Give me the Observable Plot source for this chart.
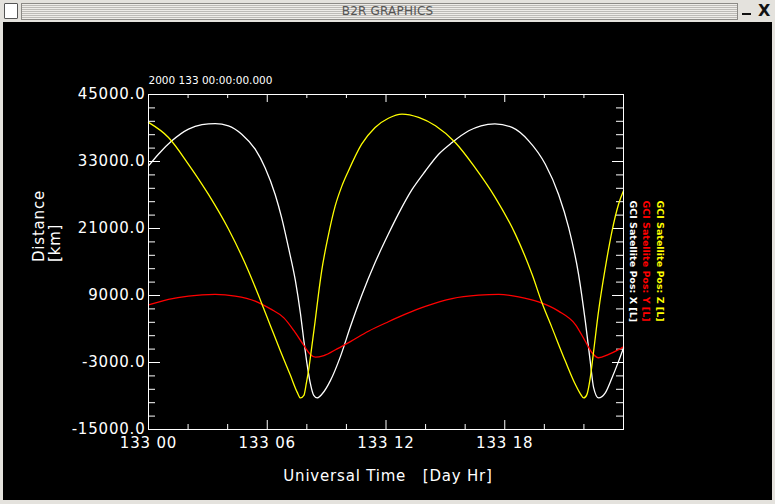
<!DOCTYPE html>
<html>
<head>
<meta charset="utf-8">
<script src="https://cdn.jsdelivr.net/npm/d3@7"></script>
<script src="https://cdn.jsdelivr.net/npm/@observablehq/plot@0.6"></script>
<style>
  html, body { margin: 0; padding: 0; background: #000; width: 775px; height: 504px; overflow: hidden; }
  #win { position: relative; width: 775px; height: 504px; background: #000; font-family: "DejaVu Sans", sans-serif; }
  #titlebar { position: absolute; left: 0; top: 0; width: 775px; height: 22px; background: #e4e2dd; }
  #icon { position: absolute; left: 4px; top: 3px; width: 12px; height: 14px; background: #fff; border: 1px solid #555; border-radius: 1px; }
  #stripes { position: absolute; left: 21px; top: 3px; width: 715px; height: 15px; border: 1px solid #8c8a86;
    background: repeating-linear-gradient(to bottom, #eeece8 0px, #eeece8 1px, #bdbbb7 1px, #bdbbb7 2px); }
  #ttl { position: absolute; left: 0; top: 0; width: 775px; height: 22px; line-height: 22px; text-align: center;
    font-size: 12px; color: #555; letter-spacing: 0.2px; }
  #minb { position: absolute; left: 742px; top: 13px; width: 9px; height: 2px; background: #111; }
  #closeb { position: absolute; left: 758px; top: 1px; font-size: 16px; font-weight: bold; color: #111; line-height: 20px; }
  #chart { position: absolute; left: 0; top: 22px; }
  .bd { position: absolute; background: #e4e2dd; }
</style>
</head>
<body>
<div id="win">
  <div id="titlebar">
    <div id="icon"></div>
    <div id="stripes"></div>
    <div id="ttl">B2R GRAPHICS</div>
    <div id="minb"></div>
    <div id="closeb">X</div>
  </div>
  <div id="chart"></div>
  <div class="bd" style="left:0;top:22px;width:3px;height:482px;"></div>
  <div class="bd" style="left:772px;top:22px;width:3px;height:482px;"></div>
  <div class="bd" style="left:0;top:500px;width:775px;height:4px;"></div>
</div>
<script>
// ---- data ----
const xPosHours = [0, 0.5, 1.18, 2.02, 2.7, 3.37, 4.04, 4.71, 5.39, 5.89, 6.4, 6.73, 7.07, 7.42, 7.68, 7.85, 8.01, 8.18, 8.35, 8.52, 8.77, 9.19, 9.7, 10.2, 10.77, 11.45, 12.12, 12.64, 13.32, 13.99, 14.66, 15.34, 16.18, 16.8, 17.5, 18.37, 19.21, 20.05, 20.72, 21.23, 21.73, 22.07, 22.32, 22.49, 22.74, 23.08, 23.42, 23.75, 24.0];
const xPosKm    = [32200, 34300, 36700, 38800, 39600, 39800, 39400, 37900, 35200, 31900, 27100, 22900, 17600, 11700, 5700, 900, -3250, -6800, -8900, -9350, -8650, -6250, -1900, 3400, 9000, 14900, 20000, 23700, 28000, 31300, 34300, 36400, 38500, 39400, 39750, 39100, 36700, 32500, 27100, 21150, 12800, 4400, -2800, -7500, -9350, -8450, -5750, -2800, -400];

const yPosHours = [0, 1.01, 2.02, 3.37, 4.38, 5.39, 6.16, 6.84, 7.34, 7.85, 8.18, 8.43, 8.86, 9.53, 10.2, 11.11, 12.12, 12.98, 13.99, 15.34, 16.68, 17.69, 18.7, 19.71, 20.72, 21.57, 22.07, 22.41, 22.74, 23.25, 23.75, 24.0];
const yPosKm    = [7300, 8300, 8900, 9200, 8900, 8000, 6600, 5000, 2750, 50, -1550, -2050, -1750, -550, 750, 2600, 4300, 5650, 7050, 8450, 9050, 9200, 8750, 7850, 6200, 3800, 800, -1250, -2150, -1550, -700, -200];

const zPosHours = [0, 1.01, 2.02, 3.03, 4.04, 5.05, 5.64, 6.16, 6.67, 7.17, 7.51, 7.68, 7.85, 7.98, 8.08, 8.25, 8.42, 8.58, 8.75, 9.09, 9.43, 9.76, 10.1, 10.77, 11.45, 12.12, 12.81, 13.65, 14.5, 15.5, 16.5, 17.53, 18.54, 19.38, 19.88, 20.39, 21.06, 21.57, 21.82, 21.99, 22.15, 22.32, 22.49, 22.74, 23.08, 23.42, 23.75, 24.0];
const zPosKm    = [40000, 37300, 32500, 27100, 20900, 13400, 8300, 3600, -1000, -5300, -8300, -9350, -8900, -6600, -4600, -200, 4400, 9000, 13400, 19800, 25000, 28500, 31300, 36100, 39100, 40750, 41500, 40900, 39400, 36400, 31900, 26500, 19950, 12800, 7700, 3200, -2750, -6950, -8600, -9350, -8750, -5750, -1000, 6200, 13950, 20550, 25350, 27750];

const seriesNames  = ["GCI Satellite Pos: X [L]", "GCI Satellite Pos: Y [L]", "GCI Satellite Pos: Z [L]"];
const seriesColors = ["#ffffff", "#ff0000", "#ffff00"];

const xTicksMajor = [0, 6, 12, 18];
const xTicksMinor = [2, 4, 8, 10, 14, 16, 20, 22];
const xTickLabels = ["133 00", "133 06", "133 12", "133 18"];
const yTicksMajor = [-15000, -3000, 9000, 21000, 33000, 45000];
const yTicksMinor = d3.range(-15000, 45000, 2400).filter(v => !yTicksMajor.includes(v));

const xTitle = "Universal Time\u00a0\u00a0\u00a0[Day Hr]";
const yTitle = "Distance\n[km]";
const dateStamp = "2000 133 00:00:00.000";

// ---- build ----
const W = 775, H = 482, mL = 148, mR = 152, mT = 72, mB = 75;
const PW = W - mL - mR, PH = H - mT - mB;

const series = [
  {name: seriesNames[0], color: seriesColors[0], hours: xPosHours, km: xPosKm},
  {name: seriesNames[1], color: seriesColors[1], hours: yPosHours, km: yPosKm},
  {name: seriesNames[2], color: seriesColors[2], hours: zPosHours, km: zPosKm}
];

const tickStyle = {stroke: "white", strokeWidth: 1};

const marks = [
  Plot.tickY(yTicksMajor, {y: d => d, ...tickStyle, insetRight: PW - 12}),
  Plot.tickY(yTicksMinor, {y: d => d, ...tickStyle, insetRight: PW - 7}),
  Plot.tickY(yTicksMajor, {y: d => d, ...tickStyle, insetLeft: PW - 11}),
  Plot.tickY(yTicksMinor, {y: d => d, ...tickStyle, insetLeft: PW - 7}),
  Plot.tickX(xTicksMajor, {x: d => d, ...tickStyle, insetTop: PH - 9}),
  Plot.tickX(xTicksMinor, {x: d => d, ...tickStyle, insetTop: PH - 5}),
  Plot.tickX(xTicksMajor, {x: d => d, ...tickStyle, insetBottom: PH - 8}),
  Plot.tickX(xTicksMinor, {x: d => d, ...tickStyle, insetBottom: PH - 4}),
  ...series.map(s => Plot.line(s.hours.map((h, i) => ({hour: h, km: s.km[i]})),
      {x: "hour", y: "km", stroke: s.color, strokeWidth: 1.3, curve: "monotone-x"})),
  Plot.frame({stroke: "white", strokeWidth: 1}),
  Plot.text(yTicksMajor, {y: d => d, text: d => d.toFixed(1), frameAnchor: "left", textAnchor: "end",
      dx: -3, fill: "white", fontSize: 15}),
  Plot.text(xTicksMajor, {x: d => d, text: (d, i) => xTickLabels[i], frameAnchor: "bottom", lineAnchor: "top",
      dy: 8, fill: "white", fontSize: 15}),
  Plot.text([xTitle], {text: d => d, frameAnchor: "bottom", lineAnchor: "top", dy: 41, dx: 2,
      fill: "white", fontSize: 15}),
  Plot.text([yTitle], {text: d => d, frameAnchor: "left", rotate: -90, dx: -102, lineHeight: 1.1,
      fill: "white", fontSize: 15}),
  Plot.text([dateStamp], {text: d => d, frameAnchor: "top-left", textAnchor: "start", lineAnchor: "middle",
      dy: -14, fill: "white", fontSize: 10.5}),
  ...series.map((s, i) => Plot.text([s.name], {text: d => d, frameAnchor: "top-right", rotate: 90,
      textAnchor: "start", lineAnchor: "middle", dx: 9.5 + i * 13.5, dy: 106,
      fill: s.color, fontSize: 9.5, fontWeight: "bold"}))
];

const svg = Plot.plot({
  width: W, height: H,
  marginLeft: mL, marginRight: mR, marginTop: mT, marginBottom: mB,
  x: {domain: [0, 24], axis: null},
  y: {domain: [-15000, 45000], axis: null},
  style: {background: "black", color: "white", fontFamily: "DejaVu Sans, sans-serif", overflow: "visible"},
  marks
});

d3.select(svg).selectAll('g[font-size="15"]').attr("letter-spacing", "0.8");
document.getElementById("chart").appendChild(svg);
</script>
</body>
</html>
